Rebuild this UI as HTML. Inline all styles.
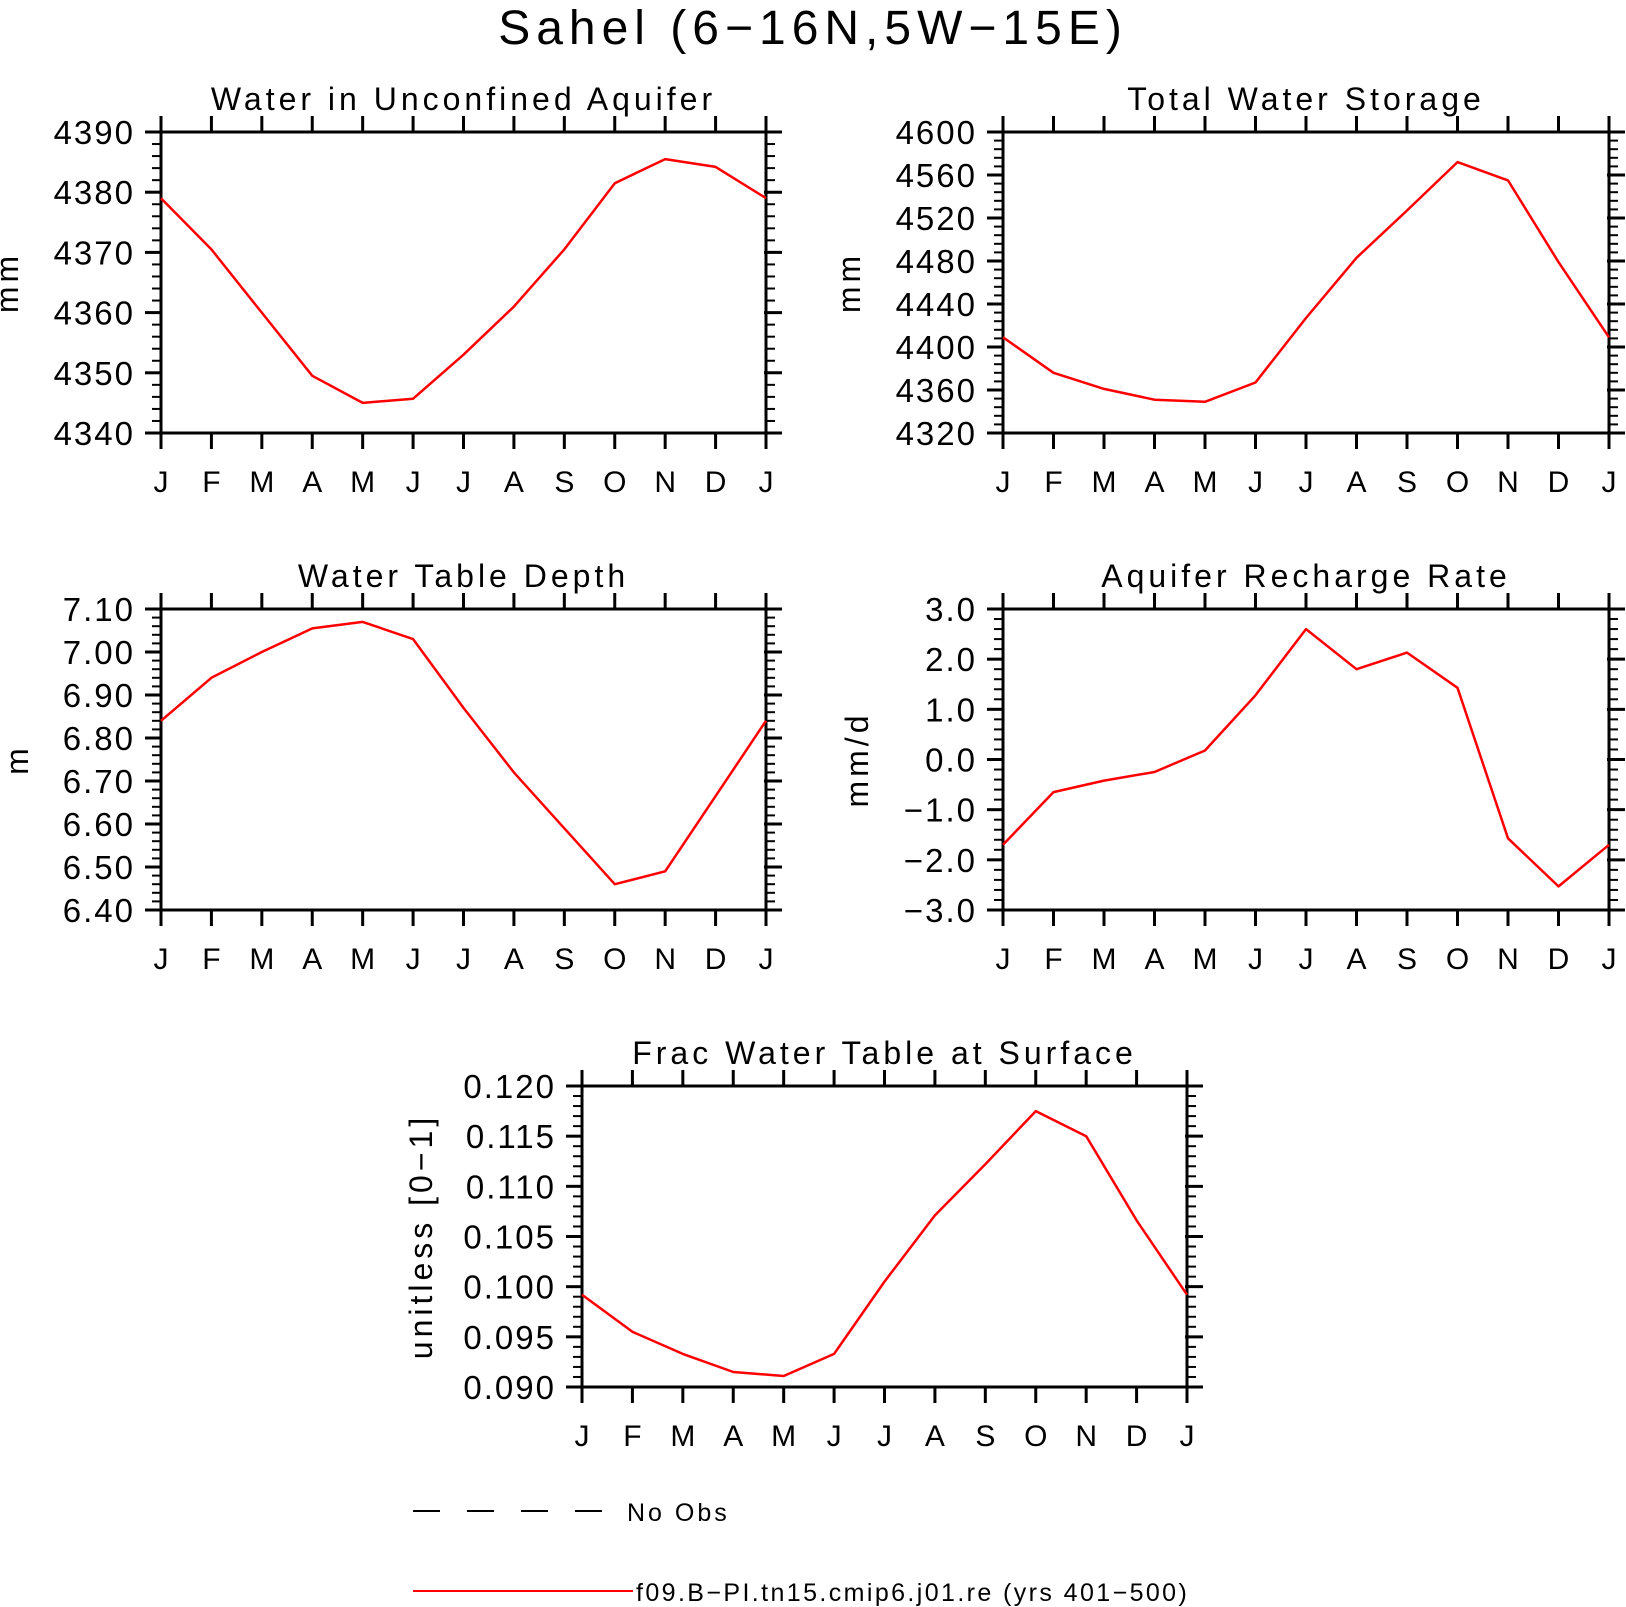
<!DOCTYPE html>
<html><head><meta charset="utf-8"><style>
html,body{margin:0;padding:0;background:#fff;}
svg{display:block;font-family:"Liberation Sans",sans-serif;}
</style></head><body>
<svg id="fig" width="1626" height="1607" viewBox="0 0 1626 1607" xmlns="http://www.w3.org/2000/svg">
<text x="813" y="44" font-size="48" text-anchor="middle" letter-spacing="6" fill="#000">Sahel (6−16N,5W−15E)</text>
<g>
<line x1="413" y1="1511" x2="605" y2="1511" stroke="#000" stroke-width="2" stroke-dasharray="27,27"/>
<text x="627" y="1521" font-size="25" letter-spacing="3">No Obs</text>
<line x1="413" y1="1591" x2="633" y2="1591" stroke="#f00" stroke-width="2"/>
<text x="636" y="1601" font-size="25" letter-spacing="2.4">f09.B−PI.tn15.cmip6.j01.re (yrs 401−500)</text>
</g>
</svg>
<script>
const months = ["J","F","M","A","M","J","J","A","S","O","N","D","J"];
const aquiferVals = [4379,4370.5,4360,4349.5,4345,4345.7,4353,4361,4370.5,4381.5,4385.5,4384.2,4379];
const aquiferTicks = [4340,4350,4360,4370,4380,4390];
const twsVals = [4409,4376,4361,4351,4349,4367,4427,4483,4527,4572,4555,4479,4409];
const twsTicks = [4320,4360,4400,4440,4480,4520,4560,4600];
const wtdVals = [6.84,6.94,7.00,7.055,7.07,7.03,6.87,6.72,6.59,6.46,6.49,6.665,6.84];
const wtdTicks = [6.40,6.50,6.60,6.70,6.80,6.90,7.00,7.10];
const rechargeVals = [-1.7,-0.65,-0.42,-0.25,0.18,1.28,2.6,1.8,2.13,1.43,-1.57,-2.53,-1.7];
const rechargeTicks = [-3,-2,-1,0,1,2,3];
const fracVals = [0.0992,0.0955,0.0933,0.0915,0.0911,0.0933,0.1005,0.1071,0.1122,0.1175,0.115,0.1066,0.0992];
const fracTicks = [0.090,0.095,0.100,0.105,0.110,0.115,0.120];

const NS="http://www.w3.org/2000/svg";
const svg=document.getElementById('fig');
function mk(tag,attrs,parent){const e=document.createElementNS(NS,tag);for(const k in attrs)e.setAttribute(k,attrs[k]);parent.appendChild(e);return e;}

function panel(key,title,ylab,vals,ticks,dec,L,T,R,B){
  const g=mk('g',{},svg);
  
  
  const y0=ticks[0],y1=ticks[ticks.length-1];
  const xs=i=>L+(R-L)*i/(months.length-1);
  const ys=v=>B-(B-T)*(v-y0)/(y1-y0);
  const t=mk('text',{x:(L+R)/2,y:T-22,'font-size':32,'text-anchor':'middle','letter-spacing':4},g);
  
  
  t.textContent=title;
  const fr=mk('rect',{x:L,y:T,width:R-L,height:B-T,fill:'none',stroke:'#000','stroke-width':3},g);
  
  
  months.forEach((m,i)=>{
    const x=xs(i);
    mk('line',{x1:x,y1:T,x2:x,y2:T-16,stroke:'#000','stroke-width':3},g);
    mk('line',{x1:x,y1:B,x2:x,y2:B+16,stroke:'#000','stroke-width':3},g);
    const lt=mk('text',{x:x,y:B+59,'font-size':30,'text-anchor':'middle'},g);
    
    
    lt.textContent=m;
  });
  const step=ticks[1]-ticks[0];
  for(let k=0;k<ticks.length;k++){
    const y=ys(ticks[k]);
    mk('line',{x1:L-16,y1:y,x2:L,y2:y,stroke:'#000','stroke-width':3},g);
    mk('line',{x1:R-2,y1:y,x2:R+16,y2:y,stroke:'#000','stroke-width':3},g);
    const lt=mk('text',{x:L-26,y:y+12,'font-size':33,'text-anchor':'end','letter-spacing':2},g);
    
    
    lt.textContent=ticks[k].toFixed(dec).replace('-','−');
    if(k<ticks.length-1){
      for(let j=1;j<5;j++){
        const ym=ys(ticks[k]+step*j/5);
        mk('line',{x1:L-9,y1:ym,x2:L,y2:ym,stroke:'#000','stroke-width':2},g);
        mk('line',{x1:R,y1:ym,x2:R+9,y2:ym,stroke:'#000','stroke-width':2},g);
      }
    }
  }
  const yl=mk('text',{x:0,y:0,'font-size':32,'text-anchor':'middle','letter-spacing':4,transform:`translate(${ylab.x},${(T+B)/2}) rotate(-90)`},g);
  
  
  yl.textContent=ylab.t;
  const pts=vals.map((v,i)=>xs(i).toFixed(1)+','+ys(v).toFixed(1)).join(' ');
  const pl=mk('polyline',{points:pts,fill:'none',stroke:'#f00','stroke-width':2.5,'stroke-linejoin':'round'},g);
  
  
}
panel('aquifer','Water in Unconfined Aquifer',{x:18,t:'mm'},aquiferVals,aquiferTicks,0,161,132,766,433);
panel('tws','Total Water Storage',{x:860,t:'mm'},twsVals,twsTicks,0,1003,132,1609,433);
panel('wtd','Water Table Depth',{x:28,t:'m'},wtdVals,wtdTicks,2,161,609,766,910);
panel('recharge','Aquifer Recharge Rate',{x:868,t:'mm/d'},rechargeVals,rechargeTicks,1,1003,609,1609,910);
panel('frac','Frac Water Table at Surface',{x:432,t:'unitless [0−1]'},fracVals,fracTicks,3,582,1086,1187,1387);
</script>
</body></html>
